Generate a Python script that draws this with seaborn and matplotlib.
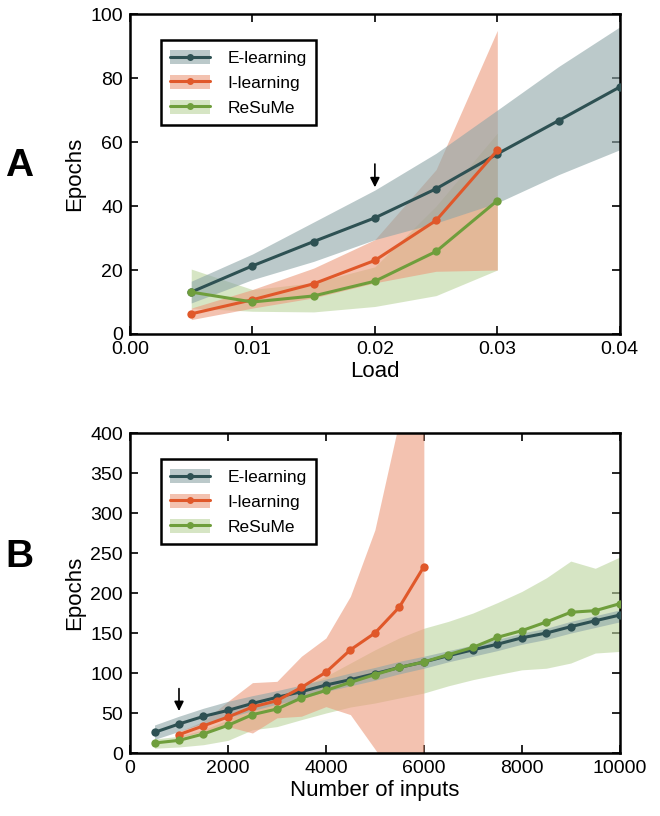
import numpy as np
import pandas as pd
import matplotlib
matplotlib.use("Agg")
import matplotlib.pyplot as plt
from matplotlib.patches import Patch
from matplotlib.lines import Line2D
import seaborn as sns

# ---------------- data: panel A ----------------
load_e = [0.005, 0.010, 0.015, 0.020, 0.025, 0.030, 0.035, 0.040]
e_a_mean = [13.1, 21.3, 28.9, 36.3, 45.4, 56.3, 66.7, 77.2]
e_a_up = [16.5, 25.0, 35.0, 45.0, 56.5, 70.0, 83.6, 96.0]
e_a_lo = [9.7, 17.0, 22.7, 29.5, 34.7, 41.0, 49.8, 57.6]

load_i = [0.005, 0.010, 0.015, 0.020, 0.025, 0.030]
i_a_mean = [6.3, 10.7, 15.7, 23.0, 35.5, 57.4]
i_a_up = [8.1, 13.9, 20.6, 29.5, 51.4, 94.9]
i_a_lo = [4.5, 8.1, 11.3, 16.0, 19.6, 20.0]

load_r = [0.005, 0.010, 0.015, 0.020, 0.025, 0.030]
r_a_mean = [13.1, 10.0, 11.9, 16.5, 25.8, 41.7]
r_a_up = [20.3, 13.9, 16.0, 21.0, 40.0, 62.8]
r_a_lo = [8.1, 7.1, 6.9, 8.6, 12.0, 20.0]

# ---------------- data: panel B ----------------
n_e = [500, 1000, 1500, 2000, 2500, 3000, 3500, 4000, 4500, 5000,
       5500, 6000, 6500, 7000, 7500, 8000, 8500, 9000, 9500, 10000]
e_b_mean = [25.8, 36.3, 45.8, 53.3, 62.0, 69.6, 76.7, 85.0, 91.7, 99.2,
            107.0, 113.8, 121.7, 129.0, 136.0, 144.0, 150.0, 158.0, 165.4, 172.5]
e_b_up = [35.0, 46.0, 56.0, 64.6, 71.7, 78.0, 85.0, 92.5, 100.0, 107.0,
          114.6, 121.0, 128.0, 135.0, 142.0, 150.0, 156.0, 164.6, 171.7, 179.0]
e_b_lo = [17.0, 27.0, 37.0, 44.0, 53.0, 61.0, 68.0, 77.0, 84.0, 91.0,
          99.0, 106.0, 114.0, 121.0, 128.0, 136.0, 142.0, 150.0, 157.0, 164.0]

n_i = [1000, 1500, 2000, 2500, 3000, 3500, 4000, 4500, 5000, 5500, 6000]
i_b_mean = [23.0, 34.0, 45.0, 57.5, 65.4, 82.0, 101.0, 129.0, 150.0, 182.5, 233.0]
i_b_up = [27.0, 39.6, 64.6, 88.0, 89.6, 121.0, 143.8, 196.0, 279.0, 416.0, 600.0]
i_b_lo = [19.0, 27.0, 33.0, 25.0, 44.0, 46.0, 58.0, 48.0, 5.0, -40.0, -80.0]

n_r = n_e
r_b_mean = [12.5, 15.8, 23.8, 34.6, 48.0, 55.0, 68.8, 78.3, 88.3, 98.0,
            107.0, 113.8, 123.0, 132.0, 144.6, 153.0, 163.8, 176.0, 178.0, 186.7]
r_b_up = [17.5, 21.0, 29.0, 41.7, 58.0, 66.7, 83.0, 96.0, 112.5, 129.0,
          144.0, 156.0, 164.6, 175.0, 188.0, 202.0, 219.0, 240.0, 231.0, 245.0]
r_b_lo = [6.0, 7.5, 10.4, 15.8, 29.0, 33.0, 41.7, 50.0, 57.5, 62.5,
          68.8, 75.0, 84.0, 91.7, 98.0, 104.0, 106.0, 112.5, 125.0, 127.0]

names = ["E-learning", "I-learning", "ReSuMe"]
line_colors = ["#2e5153", "#e0582a", "#6f9e3c"]
band_colors = ["#8ea6a8", "#ec9a7c", "#bcd59e"]
band_alpha = 0.6

sns.set_style("ticks")
plt.rcParams["font.family"] = ["Liberation Sans", "DejaVu Sans"]
plt.rcParams["text.color"] = "black"
plt.rcParams["axes.labelcolor"] = "black"
plt.rcParams["xtick.color"] = "black"
plt.rcParams["ytick.color"] = "black"

fig = plt.figure(figsize=(6.6, 8.16), dpi=100)
axA = fig.add_axes([0.197, 0.5907, 0.742, 0.392])
axB = fig.add_axes([0.197, 0.0772, 0.742, 0.392])


def draw_panel(ax, series):
    rows = []
    for name, (xs, m, up, lo) in zip(names, series):
        for x, v in zip(xs, m):
            rows.append({"x": x, "y": v, "method": name})
    df = pd.DataFrame(rows)
    # bands: ReSuMe first, then I-learning, then E-learning on top
    for idx in [2, 1, 0]:
        xs, m, up, lo = series[idx]
        ax.fill_between(xs, lo, up, color=band_colors[idx], alpha=band_alpha,
                        lw=0, zorder=1 + (2 - idx) * 0.1)
    sns.lineplot(data=df, x="x", y="y", hue="method", hue_order=names,
                 palette=line_colors, marker="o", markersize=6,
                 markeredgewidth=0, linewidth=2.2, ax=ax, legend=False,
                 zorder=3)
    handles = []
    for lc, bc in zip(line_colors, band_colors):
        p = Patch(facecolor=bc, alpha=band_alpha, edgecolor="none")
        l = Line2D([], [], color=lc, lw=2.2, marker="o", markersize=5,
                   markeredgewidth=0)
        handles.append((p, l))
    leg = ax.legend(handles, names, loc="upper left",
                    bbox_to_anchor=(0.045, 0.945), fontsize=12.5,
                    frameon=True, fancybox=False, handlelength=2.3,
                    handleheight=0.9, borderpad=0.55, labelspacing=0.5,
                    handletextpad=1.0)
    fr = leg.get_frame()
    fr.set_edgecolor("black")
    fr.set_linewidth(1.8)
    fr.set_alpha(1)
    for s in ax.spines.values():
        s.set_visible(True)
        s.set_linewidth(1.8)
        s.set_color("black")
    ax.tick_params(direction="in", top=True, right=True, length=6,
                   width=1.2, labelsize=14, pad=5, colors="black")
    ax.set_ylabel("Epochs", fontsize=16, color="black")


draw_panel(axA, [(load_e, e_a_mean, e_a_up, e_a_lo),
                 (load_i, i_a_mean, i_a_up, i_a_lo),
                 (load_r, r_a_mean, r_a_up, r_a_lo)])
axA.set_xlim(0, 0.04)
axA.set_ylim(0, 100)
axA.set_xticks([0.0, 0.01, 0.02, 0.03, 0.04])
axA.set_xticklabels(["0.00", "0.01", "0.02", "0.03", "0.04"])
axA.set_yticks([0, 20, 40, 60, 80, 100])
axA.set_xlabel("Load", fontsize=16, labelpad=2, color="black")
axA.annotate("", xy=(0.02, 45.0), xytext=(0.02, 54.0),
             arrowprops=dict(arrowstyle="-|>", color="black", lw=1.2,
                             mutation_scale=14), zorder=5)

draw_panel(axB, [(n_e, e_b_mean, e_b_up, e_b_lo),
                 (n_i, i_b_mean, i_b_up, i_b_lo),
                 (n_r, r_b_mean, r_b_up, r_b_lo)])
axB.set_xlim(0, 10000)
axB.set_ylim(0, 400)
axB.set_xticks([0, 2000, 4000, 6000, 8000, 10000])
axB.set_yticks([0, 50, 100, 150, 200, 250, 300, 350, 400])
axB.set_xlabel("Number of inputs", fontsize=16, labelpad=2, color="black")
axB.annotate("", xy=(1000, 49), xytext=(1000, 84),
             arrowprops=dict(arrowstyle="-|>", color="black", lw=1.2,
                             mutation_scale=14), zorder=5)

fig.text(0.008, 0.797, "A", fontsize=28, fontweight="bold", va="center",
         color="black")
fig.text(0.008, 0.318, "B", fontsize=28, fontweight="bold", va="center",
         color="black")

fig.savefig("out.png", dpi=100)
